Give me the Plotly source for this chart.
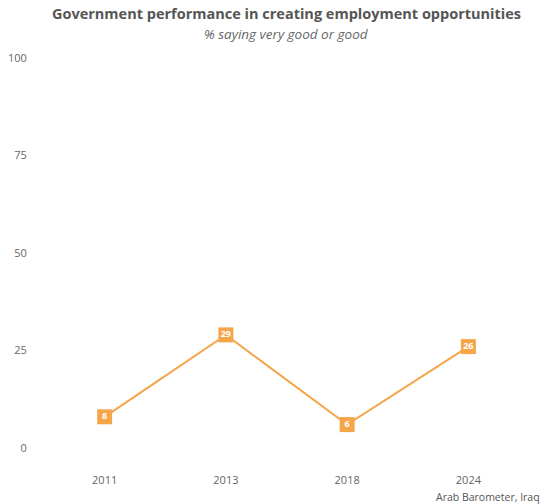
import plotly.graph_objects as go

years = ["2011", "2013", "2018", "2024"]
values = [8, 29, 6, 26]
y_ticks = [0, 25, 50, 75, 100]

orange = "#F5A54A"
font_family = "Open Sans, Noto Sans, sans-serif"

fig = go.Figure()
fig.add_trace(go.Scatter(
    x=years,
    y=values,
    mode="lines+markers+text",
    line=dict(color=orange, width=2),
    marker=dict(symbol="square", size=15, color=orange),
    text=[str(v) for v in values],
    textposition="middle center",
    textfont=dict(color="white", size=9, family=font_family, weight="bold"),
    hoverinfo="x+y",
    showlegend=False,
))

top, bottom = 58, 56
plot_h = 504 - top - bottom

fig.update_layout(
    width=543,
    height=504,
    margin=dict(l=44, r=14, t=top, b=bottom, autoexpand=False),
    paper_bgcolor="white",
    plot_bgcolor="white",
    font=dict(family=font_family, color="#666666", size=11),
    title=dict(
        text="<b>Government performance in creating employment opportunities</b>",
        x=0.5, xref="paper", xanchor="center",
        y=1, yref="container", yanchor="top", pad=dict(t=9),
        font=dict(size=14.5, color="#555555", family=font_family),
    ),
    xaxis=dict(
        type="category",
        range=[-0.5, 3.5],
        automargin=False,
        showgrid=False, zeroline=False, showline=False,
        ticks="outside", ticklen=22, tickcolor="rgba(0,0,0,0)",
        tickfont=dict(size=11, color="#666666"),
        fixedrange=True,
    ),
    yaxis=dict(
        range=[0, 100],
        tickvals=y_ticks,
        automargin=False,
        showgrid=False, zeroline=False, showline=False,
        ticks="outside", ticklen=14, tickcolor="rgba(0,0,0,0)",
        tickfont=dict(size=11, color="#666666"),
        fixedrange=True,
    ),
    annotations=[
        dict(
            text="<i>% saying very good or good</i>",
            x=0.5, xref="paper", xanchor="center",
            y=1 + (top - 34) / plot_h, yref="paper", yanchor="middle",
            showarrow=False,
            font=dict(size=13.5, color="#666666", family=font_family),
        ),
        dict(
            text="Arab Barometer, Iraq",
            x=1, xref="paper", xanchor="right", xshift=13,
            y=0, yref="paper", yanchor="middle", yshift=-49,
            showarrow=False,
            font=dict(size=10.5, color="#555555", family=font_family),
        ),
    ],
)

fig.write_html("out.html")
